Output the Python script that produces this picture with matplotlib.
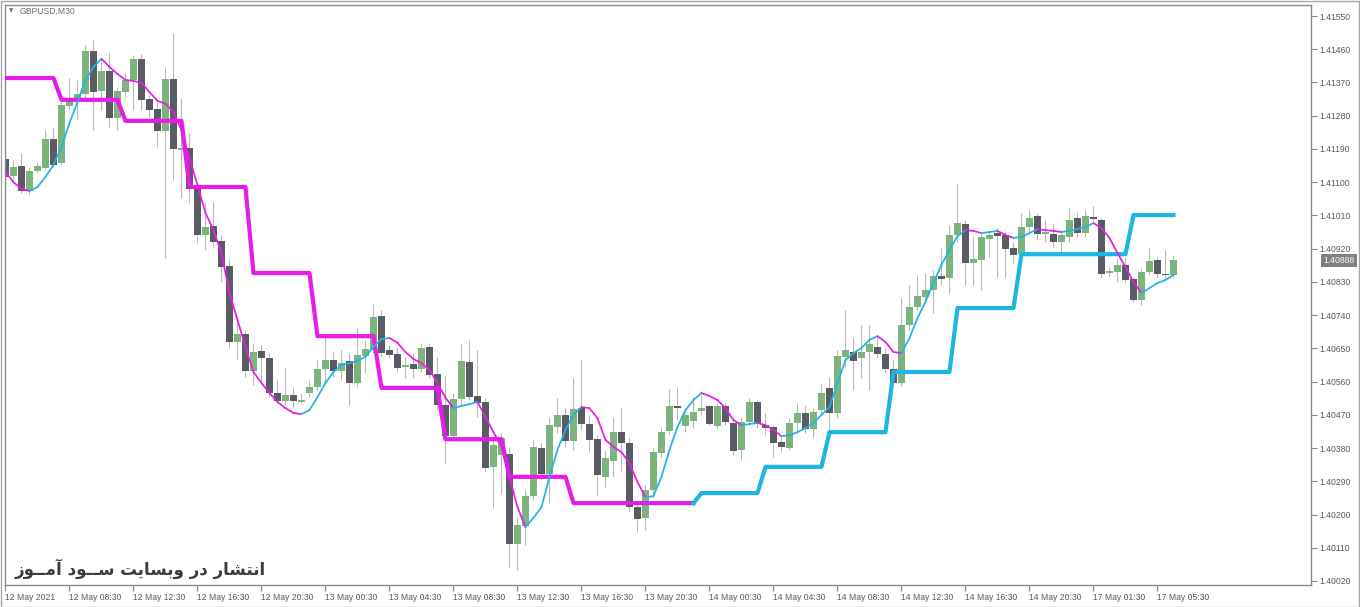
import numpy as np
import matplotlib
matplotlib.use('Agg')
import matplotlib.pyplot as plt
from matplotlib.collections import LineCollection
from matplotlib.patches import Rectangle
from matplotlib.transforms import blended_transform_factory

# GBPUSD M30 candles
opens = [
    1.41163, 1.41117, 1.41144, 1.41076, 1.41130, 1.41138, 1.41217, 1.41152, 1.41306, 1.41323,
    1.41339, 1.41455, 1.41347, 1.41401, 1.41274, 1.41344, 1.41377, 1.41434, 1.41325, 1.41298,
    1.41239, 1.41379, 1.41187, 1.41193, 1.41087, 1.40957, 1.40981, 1.40941, 1.40873, 1.40667,
    1.40689, 1.40589, 1.40643, 1.40624, 1.40529, 1.40507, 1.40524, 1.40505, 1.40529, 1.40545,
    1.40594, 1.40618, 1.40589, 1.40616, 1.40556, 1.40629, 1.40646, 1.40738, 1.40646, 1.40635,
    1.40600, 1.40608, 1.40594, 1.40654, 1.40580, 1.40497, 1.40413, 1.40513, 1.40613, 1.40521,
    1.40505, 1.40329, 1.40361, 1.40364, 1.40120, 1.40169, 1.40250, 1.40380, 1.40310, 1.40437,
    1.40470, 1.40399, 1.40488, 1.40445, 1.40404, 1.40302, 1.40345, 1.40423, 1.40394, 1.40220,
    1.40191, 1.40266, 1.40367, 1.40426, 1.40494, 1.40440, 1.40453, 1.40480, 1.40494, 1.40440,
    1.40494, 1.40448, 1.40375, 1.40451, 1.40505, 1.40442, 1.40437, 1.40396, 1.40380, 1.40448,
    1.40475, 1.40432, 1.40483, 1.40543, 1.40475, 1.40627, 1.40640, 1.40624, 1.40640, 1.40654,
    1.40635, 1.40594, 1.40556, 1.40713, 1.40762, 1.40789, 1.40808, 1.40846, 1.40841, 1.40957,
    1.40987, 1.40881, 1.40889, 1.40946, 1.40962, 1.40957, 1.40922, 1.40905, 1.40979, 1.41008,
    1.40960, 1.40960, 1.40938, 1.40952, 1.41003, 1.40962, 1.41006, 1.40998, 1.40854, 1.40857,
    1.40876, 1.40838, 1.40781, 1.40857, 1.40889, 1.40851, 1.40849]
highs = [
    1.41174, 1.41160, 1.41179, 1.41141, 1.41155, 1.41241, 1.41247, 1.41331, 1.41382, 1.41377,
    1.41471, 1.41485, 1.41436, 1.41452, 1.41358, 1.41396, 1.41444, 1.41447, 1.41336, 1.41317,
    1.41412, 1.41504, 1.41328, 1.41233, 1.41092, 1.41046, 1.41046, 1.40957, 1.40889, 1.40735,
    1.40700, 1.40665, 1.40659, 1.40637, 1.40564, 1.40597, 1.40545, 1.40529, 1.40564, 1.40618,
    1.40692, 1.40640, 1.40646, 1.40637, 1.40705, 1.40673, 1.40773, 1.40754, 1.40659, 1.40654,
    1.40627, 1.40637, 1.40665, 1.40665, 1.40627, 1.40578, 1.40529, 1.40665, 1.40673, 1.40646,
    1.40516, 1.40402, 1.40421, 1.40383, 1.40191, 1.40266, 1.40402, 1.40394, 1.40464, 1.40516,
    1.40488, 1.40570, 1.40618, 1.40470, 1.40415, 1.40375, 1.40464, 1.40491, 1.40407, 1.40231,
    1.40280, 1.40383, 1.40437, 1.40540, 1.40545, 1.40488, 1.40518, 1.40524, 1.40497, 1.40502,
    1.40502, 1.40456, 1.40464, 1.40516, 1.40510, 1.40475, 1.40442, 1.40415, 1.40461, 1.40502,
    1.40497, 1.40488, 1.40556, 1.40572, 1.40646, 1.40754, 1.40681, 1.40713, 1.40713, 1.40681,
    1.40651, 1.40618, 1.40786, 1.40822, 1.40849, 1.40854, 1.40862, 1.40924, 1.40984, 1.41098,
    1.40998, 1.40952, 1.40962, 1.40965, 1.40976, 1.40965, 1.40938, 1.41017, 1.41025, 1.41017,
    1.40998, 1.40989, 1.40970, 1.41030, 1.41019, 1.41025, 1.41035, 1.41003, 1.40870, 1.40895,
    1.40895, 1.40843, 1.40868, 1.40924, 1.40897, 1.40916, 1.40903]
lows = [
    1.41111, 1.41106, 1.41071, 1.41065, 1.41125, 1.41133, 1.41141, 1.41147, 1.41295, 1.41268,
    1.41323, 1.41241, 1.41295, 1.41249, 1.41241, 1.41331, 1.41295, 1.41295, 1.41277, 1.41195,
    1.40895, 1.41106, 1.41057, 1.41044, 1.40935, 1.40916, 1.40924, 1.40830, 1.40651, 1.40618,
    1.40572, 1.40551, 1.40556, 1.40518, 1.40502, 1.40497, 1.40491, 1.40502, 1.40518, 1.40537,
    1.40556, 1.40572, 1.40564, 1.40497, 1.40545, 1.40583, 1.40637, 1.40627, 1.40624, 1.40586,
    1.40570, 1.40570, 1.40586, 1.40570, 1.40483, 1.40339, 1.40402, 1.40497, 1.40510, 1.40464,
    1.40315, 1.40218, 1.40258, 1.40058, 1.40050, 1.40117, 1.40239, 1.40294, 1.40231, 1.40421,
    1.40383, 1.40375, 1.40429, 1.40369, 1.40253, 1.40275, 1.40302, 1.40315, 1.40207, 1.40153,
    1.40158, 1.40247, 1.40356, 1.40415, 1.40456, 1.40423, 1.40434, 1.40470, 1.40442, 1.40434,
    1.40442, 1.40361, 1.40348, 1.40442, 1.40434, 1.40415, 1.40356, 1.40369, 1.40375, 1.40421,
    1.40421, 1.40410, 1.40470, 1.40410, 1.40461, 1.40600, 1.40537, 1.40570, 1.40537, 1.40624,
    1.40583, 1.40551, 1.40548, 1.40700, 1.40754, 1.40776, 1.40746, 1.40822, 1.40800, 1.40938,
    1.40822, 1.40822, 1.40808, 1.40897, 1.40843, 1.40843, 1.40881, 1.40895, 1.40962, 1.40943,
    1.40938, 1.40924, 1.40908, 1.40938, 1.40952, 1.40952, 1.40992, 1.40841, 1.40843, 1.40830,
    1.40827, 1.40776, 1.40767, 1.40849, 1.40841, 1.40835, 1.40843]
closes = [
    1.41114, 1.41141, 1.41076, 1.41130, 1.41144, 1.41217, 1.41147, 1.41309, 1.41328, 1.41339,
    1.41455, 1.41344, 1.41401, 1.41274, 1.41347, 1.41377, 1.41434, 1.41323, 1.41295, 1.41239,
    1.41379, 1.41190, 1.41193, 1.41082, 1.40957, 1.40979, 1.40938, 1.40870, 1.40667, 1.40689,
    1.40589, 1.40640, 1.40624, 1.40529, 1.40507, 1.40524, 1.40507, 1.40510, 1.40545, 1.40594,
    1.40618, 1.40589, 1.40610, 1.40556, 1.40632, 1.40648, 1.40735, 1.40637, 1.40632, 1.40597,
    1.40605, 1.40594, 1.40651, 1.40578, 1.40497, 1.40413, 1.40513, 1.40616, 1.40518, 1.40502,
    1.40326, 1.40388, 1.40407, 1.40120, 1.40172, 1.40250, 1.40383, 1.40310, 1.40442, 1.40470,
    1.40399, 1.40486, 1.40445, 1.40402, 1.40307, 1.40353, 1.40423, 1.40394, 1.40220, 1.40188,
    1.40266, 1.40369, 1.40423, 1.40494, 1.40488, 1.40470, 1.40478, 1.40488, 1.40445, 1.40494,
    1.40451, 1.40372, 1.40451, 1.40505, 1.40448, 1.40434, 1.40394, 1.40383, 1.40448, 1.40475,
    1.40432, 1.40478, 1.40529, 1.40475, 1.40629, 1.40646, 1.40616, 1.40640, 1.40662, 1.40635,
    1.40594, 1.40556, 1.40713, 1.40762, 1.40792, 1.40808, 1.40846, 1.40838, 1.40957, 1.40989,
    1.40881, 1.40892, 1.40952, 1.40957, 1.40954, 1.40919, 1.40903, 1.40979, 1.41003, 1.40960,
    1.40965, 1.40938, 1.40957, 1.40998, 1.40962, 1.41008, 1.41000, 1.40851, 1.40859, 1.40876,
    1.40835, 1.40781, 1.40857, 1.40887, 1.40851, 1.40849, 1.40888]

# smoothed average line (cyan when rising, magenta when falling)
ma_line = [
    1.41128, 1.41100, 1.41082, 1.41076, 1.41087, 1.41114, 1.41147, 1.41195, 1.41260, 1.41317,
    1.41377, 1.41412, 1.41434, 1.41412, 1.41393, 1.41377, 1.41374, 1.41369, 1.41344, 1.41320,
    1.41312, 1.41290, 1.41241, 1.41165, 1.41092, 1.41017, 1.40970, 1.40908, 1.40800, 1.40727,
    1.40654, 1.40586, 1.40556, 1.40529, 1.40505, 1.40488, 1.40475, 1.40472, 1.40483, 1.40518,
    1.40556, 1.40586, 1.40605, 1.40610, 1.40616, 1.40627, 1.40654, 1.40675, 1.40678, 1.40665,
    1.40640, 1.40621, 1.40610, 1.40591, 1.40556, 1.40516, 1.40488, 1.40494, 1.40499, 1.40505,
    1.40464, 1.40423, 1.40383, 1.40302, 1.40220, 1.40166, 1.40191, 1.40220, 1.40302, 1.40375,
    1.40429, 1.40470, 1.40491, 1.40488, 1.40461, 1.40402, 1.40383, 1.40369, 1.40339, 1.40288,
    1.40247, 1.40250, 1.40302, 1.40375, 1.40437, 1.40483, 1.40510, 1.40529, 1.40521, 1.40510,
    1.40488, 1.40456, 1.40442, 1.40445, 1.40448, 1.40442, 1.40429, 1.40412, 1.40415, 1.40423,
    1.40434, 1.40448, 1.40470, 1.40491, 1.40556, 1.40618, 1.40637, 1.40651, 1.40673, 1.40683,
    1.40667, 1.40640, 1.40637, 1.40678, 1.40732, 1.40776, 1.40827, 1.40876, 1.40916, 1.40954,
    1.40970, 1.40968, 1.40962, 1.40965, 1.40968, 1.40957, 1.40949, 1.40952, 1.40962, 1.40973,
    1.40970, 1.40968, 1.40965, 1.40968, 1.40973, 1.40979, 1.40989, 1.40976, 1.40949, 1.40908,
    1.40870, 1.40830, 1.40800, 1.40813, 1.40827, 1.40835, 1.40849]

# higher-timeframe stop levels: first bar of each level and its price
upper_start = [0, 7, 15, 23, 31, 39, 47, 55, 63, 71]
upper_level = [1.41382, 1.41323, 1.41266, 1.41087, 1.40854, 1.40683, 1.40543, 1.40404, 1.40302, 1.40231]
upper_last_bar = 86
lower_start = [86, 87, 95, 103, 111, 119, 127, 141]
lower_level = [1.40231, 1.40258, 1.40329, 1.40423, 1.40586, 1.40759, 1.40905, 1.41011]

y_ticks = [1.40020, 1.40110, 1.40200, 1.40290, 1.40380, 1.40470, 1.40560, 1.40650, 1.40740,
           1.40830, 1.40920, 1.41010, 1.41100, 1.41190, 1.41280, 1.41370, 1.41460, 1.41550]
x_labels = ['12 May 2021', '12 May 08:30', '12 May 12:30', '12 May 16:30', '12 May 20:30',
            '13 May 00:30', '13 May 04:30', '13 May 08:30', '13 May 12:30', '13 May 16:30',
            '13 May 20:30', '14 May 00:30', '14 May 04:30', '14 May 08:30', '14 May 12:30',
            '14 May 16:30', '14 May 20:30', '17 May 01:30', '17 May 05:30']
bars_per_label = 8
last_price = 1.40888
watermark = 'انتشار در وبسایت ســود آمــوز'
# pre-shaped presentation forms in visual order (matplotlib does no Arabic shaping)
watermark_visual = ('\uFEAF\uFEEE\u0640\u0640\uFEE3\uFE81 '
                    '\uFEA9\uFEEE\u0640\u0640\uFEB3 '
                    '\uFE96\uFEF3\uFE8E\uFEB4\uFE91\uFEED '
                    '\uFEAD\uFEA9 '
                    '\uFEAD\uFE8E\uFEB8\uFE98\uFEE7\uFE8D')

GREEN = '#7db37d'
DARK = '#5b5b66'
WICK = '#b8b8b8'
MAGENTA = '#e81ce8'
CYAN = '#1db5e6'
TXT = '#5a5a5a'

plt.rcParams['font.family'] = ['Liberation Sans', 'DejaVu Sans']

W, H = 1360, 607
fig = plt.figure(figsize=(W / 100, H / 100), dpi=100, facecolor='white')
ax = fig.add_axes([5 / W, 22 / H, 1306 / W, 580 / H])
ax.set_facecolor('white')

o = np.array(opens)
hi = np.array(highs)
lo = np.array(lows)
c = np.array(closes)
idx = np.arange(len(o))
bull = c >= o

ax.vlines(idx, lo, hi, color=WICK, lw=0.8, zorder=1)
body_low = np.minimum(o, c)
body_h = np.maximum(np.abs(c - o), 0.000015)
ax.bar(idx[bull], body_h[bull], bottom=body_low[bull], width=0.82,
       color=GREEN, linewidth=0, zorder=2)
ax.bar(idx[~bull], body_h[~bull], bottom=body_low[~bull], width=0.82,
       color=DARK, linewidth=0, zorder=2)

# thick step lines
upper = np.full(len(o), np.nan)
ends = upper_start[1:] + [upper_last_bar + 1]
for s, e, v in zip(upper_start, ends, upper_level):
    upper[s:e] = v
lower = np.full(len(o), np.nan)
ends = lower_start[1:] + [len(o)]
for s, e, v in zip(lower_start, ends, lower_level):
    lower[s:e] = v
ax.plot(idx, upper, color=MAGENTA, lw=3.0, zorder=4, solid_joinstyle='round')
ax.plot(idx, lower, color=CYAN, lw=3.0, zorder=4, solid_joinstyle='round')

# thin two-colour line
ma = np.array(ma_line)
segs = [[(i - 1, ma[i - 1]), (i, ma[i])] for i in range(1, len(ma))]
cols = [CYAN if ma[i] > ma[i - 1] else MAGENTA for i in range(1, len(ma))]
ax.add_collection(LineCollection(segs, colors=cols, linewidths=1.25, zorder=5,
                                 capstyle='round'))

ax.set_xlim(-0.06, 163.19)
ax.set_ylim(1.400091, 1.415798)

for sp in ax.spines.values():
    sp.set_color('#8a8a8a')
    sp.set_linewidth(1.0)

ax.yaxis.tick_right()
ax.set_yticks(y_ticks)
ax.set_yticklabels([f'{v:.5f}' for v in y_ticks])
ax.tick_params(axis='y', direction='out', length=4, width=0.8, color='#8a8a8a',
               labelsize=6.2, labelcolor=TXT, pad=2)
ax.set_xticks(np.arange(len(x_labels)) * bars_per_label)
ax.set_xticklabels(x_labels)
for lab in ax.get_xticklabels():
    lab.set_horizontalalignment('left')
ax.tick_params(axis='x', direction='out', length=4, width=0.8, color='#8a8a8a',
               labelsize=6.2, labelcolor=TXT, pad=1.5)

# current price tag
tr = blended_transform_factory(ax.transAxes, ax.transData)
ax.text(1.0095, last_price, f'{last_price:.5f}', transform=tr, ha='left', va='center',
        fontsize=6.2, color='white', zorder=10, clip_on=False,
        bbox=dict(facecolor='#808080', edgecolor='none', pad=1.6))

# symbol caption
fig.text(9 / W, 1 - 11 / H, '\u25BC', fontsize=4, color='#707070', va='center',
         family='DejaVu Sans')
fig.text(20 / W, 1 - 11 / H, 'GBPUSD,M30', fontsize=6.2, color='#707070', va='center')

# watermark
fig.text(15 / W, 1 - 569 / H, watermark_visual, fontsize=12, fontweight='bold',
         color='#3c3c3c', va='center', ha='left', family='DejaVu Sans')

fig.patches.append(Rectangle((0.5 / W, 0.5 / H), 1 - 1.5 / W, 1 - 1.5 / H,
                             transform=fig.transFigure, fill=False,
                             edgecolor='#a8a8a8', lw=1.0))

fig.savefig('out.png', dpi=100, facecolor='white')
